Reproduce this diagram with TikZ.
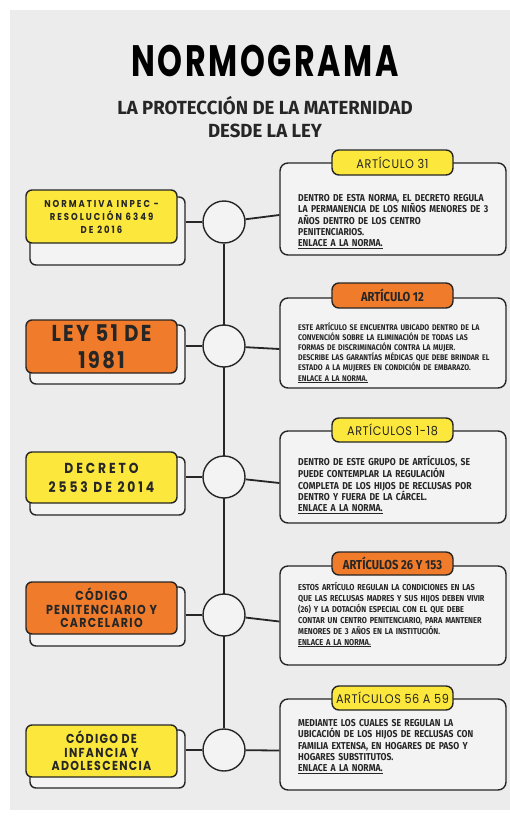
\documentclass[tikz,border=0pt]{standalone}
\usepackage{fontspec}
\usetikzlibrary{backgrounds}
\setmainfont{Fira Sans}
\newfontfamily\condfont[FakeStretch=0.86]{Fira Sans}
\newfontfamily\subfont[FakeStretch=0.98]{Fira Sans}
\newfontfamily\geofont[FakeStretch=0.85,LetterSpace=10]{Poppins}
\newfontfamily\geowide[FakeStretch=0.85,LetterSpace=20]{Poppins}
\newfontfamily\titlefont[FakeStretch=0.72,LetterSpace=6]{Poppins}
\newfontfamily\tabfont[FakeStretch=0.9,LetterSpace=5]{Poppins}
\definecolor{paper}{HTML}{ECECEC}
\definecolor{yel}{HTML}{FCE83C}
\definecolor{ora}{HTML}{EF7B2B}
\definecolor{ink}{HTML}{262626}
\definecolor{shade}{HTML}{F3F3F3}
\tikzset{
  lbox/.style={draw=ink, line width=1.4pt, rounded corners=6pt, minimum width=151pt, inner sep=0pt, align=center, text=ink},
  shbox/.style={draw=ink, line width=1.4pt, rounded corners=6pt, fill=shade, minimum width=155pt, inner sep=0pt},
  circ/.style={circle, draw=ink, line width=1.4pt, fill=shade, minimum size=42pt, inner sep=0pt},
  rbox/.style={draw=ink, line width=1.4pt, rounded corners=8pt, fill=shade, minimum width=226pt, inner sep=0pt},
  tabbox/.style={draw=ink, line width=1.4pt, rounded corners=7pt, minimum width=121pt, minimum height=25pt, inner sep=0pt, text=ink},
  body/.style={anchor=base west, inner sep=0pt, align=left, text width=200pt, text=ink},
  conn/.style={draw=ink, line width=1.8pt},
}
\begin{document}
\begin{tikzpicture}[x=1pt,y=-1pt]
\useasboundingbox (0,0) rectangle (510,816);
% title
\node[font=\titlefont\bfseries\fontsize{44}{44}\selectfont, text=black, inner sep=0pt] (title) at (265,61) {NORMOGRAMA};
\node[font=\subfont\bfseries\fontsize{19}{23.5}\selectfont, text=ink, inner sep=0pt, align=center] (sub) at (265,117) {LA PROTECCIÓN DE LA MATERNIDAD\\DESDE LA LEY};

% row 1
\node[shbox, minimum height=68pt] (s1) at (107.5,231) {};
\node[lbox, fill=yel, minimum height=53pt, font=\geowide\bfseries\fontsize{10}{13}\selectfont] (l1) at (101.5,216.5) {NORMATIVA INPEC -\\RESOLUCIÓN 6349\\DE 2016};
\node[circ] (c1) at (224,222) {};
\node[rbox, minimum height=92pt] (r1) at (393,209) {};
\node[tabbox, fill=yel, font=\tabfont\fontsize{12.5}{12.5}\selectfont] (t1) at (392.5,162.5) {ARTÍCULO 31};
\node[body, font=\condfont\bfseries\fontsize{10}{11.25}\selectfont] (b1) at (298,201.5) {DENTRO DE ESTA NORMA, EL DECRETO REGULA\\LA PERMANENCIA DE LOS NIÑOS MENORES DE 3\\AÑOS DENTRO DE LOS CENTRO\\PENITENCIARIOS.\\\underline{ENLACE A LA NORMA.}};

% row 2
\node[shbox, minimum height=59pt] (s2) at (107.5,354.5) {};
\node[lbox, fill=ora, minimum height=53pt, font=\geofont\bfseries\fontsize{23}{27}\selectfont] (l2) at (101.5,346.5) {LEY 51 DE\\1981};
\node[circ] (c2) at (224,346) {};
\node[rbox, minimum height=90pt] (r2) at (393,343) {};
\node[tabbox, fill=ora, font=\condfont\bfseries\fontsize{13}{13}\selectfont] (t2) at (392.5,295.5) {ARTÍCULO 12};
\node[body, font=\condfont\bfseries\fontsize{8.2}{10.2}\selectfont] (b2) at (298,330) {\makebox[187pt][s]{ESTE ARTÍCULO SE ENCUENTRA UBICADO DENTRO DE LA}\\\makebox[187pt][s]{CONVENCIÓN SOBRE LA ELIMINACIÓN DE TODAS LAS}\\\makebox[187pt][s]{FORMAS DE DISCRIMINACIÓN CONTRA LA MUJER.}\\\makebox[187pt][s]{DESCRIBE LAS GARANTÍAS MÉDICAS QUE DEBE BRINDAR EL}\\ESTADO A LA MUJERES EN CONDICIÓN DE EMBARAZO.\\\underline{ENLACE A LA NORMA.}};

% row 3
\node[shbox, minimum height=58pt] (s3) at (107.5,486) {};
\node[lbox, fill=yel, minimum height=51pt, font=\geowide\bfseries\fontsize{14.5}{19}\selectfont] (l3) at (101.5,477.5) {DECRETO\\2553 DE 2014};
\node[circ] (c3) at (224,477) {};
\node[rbox, minimum height=92pt] (r3) at (393,477) {};
\node[tabbox, fill=yel, minimum height=24pt, font=\tabfont\fontsize{12.5}{12.5}\selectfont] (t3) at (392.5,430) {ARTÍCULOS 1-18};
\node[body, font=\condfont\bfseries\fontsize{10}{11.25}\selectfont] (b3) at (298,465.5) {DENTRO DE ESTE GRUPO DE ARTÍCULOS, SE\\PUEDE CONTEMPLAR LA REGULACIÓN\\COMPLETA DE LOS HIJOS DE RECLUSAS POR\\DENTRO Y FUERA DE LA CÁRCEL.\\\underline{ENLACE A LA NORMA.}};

% row 4
\node[shbox, minimum height=59pt] (s4) at (107.5,616.5) {};
\node[lbox, fill=ora, minimum height=52pt, font=\geofont\bfseries\fontsize{13}{13.5}\selectfont] (l4) at (101.5,608) {CÓDIGO\\PENITENCIARIO Y\\CARCELARIO};
\node[circ] (c4) at (224,615) {};
\node[rbox, minimum height=99pt] (r4) at (393,615.5) {};
\node[tabbox, fill=ora, minimum height=23pt, font=\condfont\bfseries\fontsize{13}{13}\selectfont] (t4) at (392.5,563.5) {ARTÍCULOS 26 Y 153};
\node[body, font=\condfont\bfseries\fontsize{8.6}{10.9}\selectfont] (b4) at (298,590.5) {ESTOS ARTÍCULO REGULAN LA CONDICIONES EN LAS\\QUE LAS RECLUSAS MADRES Y SUS HIJOS DEBEN VIVIR\\(26) Y LA DOTACIÓN ESPECIAL CON EL QUE DEBE\\CONTAR UN CENTRO PENITENCIARIO, PARA MANTENER\\MENORES DE 3 AÑOS EN LA INSTITUCIÓN.\\\underline{ENLACE A LA NORMA.}};

% row 5
\node[shbox, minimum height=58pt] (s5) at (107.5,759) {};
\node[lbox, fill=yel, minimum height=52pt, font=\geofont\bfseries\fontsize{13}{13.5}\selectfont] (l5) at (101.5,751) {CÓDIGO DE\\INFANCIA Y\\ADOLESCENCIA};
\node[circ] (c5) at (224,750) {};
\node[rbox, minimum height=91pt] (r5) at (393,744.5) {};
\node[tabbox, fill=yel, minimum height=24pt, font=\tabfont\fontsize{12.5}{12.5}\selectfont] (t5) at (392.5,698) {ARTÍCULOS 56 A 59};
\node[body, font=\condfont\bfseries\fontsize{10}{11.25}\selectfont] (b5) at (298,726.5) {MEDIANTE LOS CUALES SE REGULAN LA\\UBICACIÓN DE LOS HIJOS DE RECLUSAS CON\\FAMILIA EXTENSA, EN HOGARES DE PASO Y\\HOGARES SUBSTITUTOS.\\\underline{ENLACE A LA NORMA.}};

\begin{scope}[on background layer]
\fill[white] (0,0) rectangle (510,816);
\fill[paper] (10,10) rectangle (510,810);
\draw[conn] (c1) -- (c5);
\foreach \i in {1,...,5} {
  \draw[conn] (c\i) -- (c\i -| s\i.east);
  \draw[conn] (c\i) -- ([yshift=-6pt]r\i.west);
}
\end{scope}
\end{tikzpicture}
\end{document}
